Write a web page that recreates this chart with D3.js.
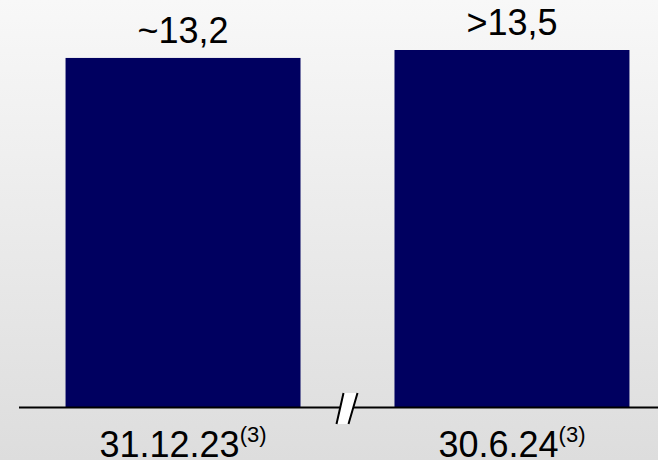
<!DOCTYPE html>
<html>
<head>
<meta charset="utf-8">
<script src="https://cdn.jsdelivr.net/npm/d3@7"></script>
<style>
  html, body { margin: 0; padding: 0; }
  svg { display: block; }
</style>
</head>
<body>
<svg id="chart" width="658" height="460"></svg>
<script>
// Data
const categories = ["31.12.23", "30.6.24"];
const footnotes = ["(3)", "(3)"];
const values = [13.2, 13.5];
const valueLabels = ["~13,2", ">13,5"];

const W = 658, H = 460;
const baseY = 407.5;
const svg = d3.select("#chart");

// Background gradient
const defs = svg.append("defs");
const grad = defs.append("linearGradient")
  .attr("id", "bg").attr("x1", 0).attr("y1", 0).attr("x2", 0).attr("y2", 1);
grad.append("stop").attr("offset", "0%").attr("stop-color", "#f8f8f8");
grad.append("stop").attr("offset", "100%").attr("stop-color", "#dddddd");
svg.append("rect").attr("width", W).attr("height", H).attr("fill", "url(#bg)");

const x = d3.scaleBand()
  .domain(categories)
  .range([19, 676])
  .paddingInner(0.2857)
  .paddingOuter(0.1415);

const y = d3.scaleLinear()
  .domain([0, 13.5])
  .range([baseY, 50]);

// Bars
svg.selectAll("rect.bar")
  .data(values)
  .join("rect")
  .attr("class", "bar")
  .attr("x", (d, i) => x(categories[i]))
  .attr("width", x.bandwidth())
  .attr("y", d => y(d))
  .attr("height", d => y(0) - y(d))
  .attr("fill", "#000060");

// Value labels
svg.selectAll("text.val")
  .data(values)
  .join("text")
  .attr("class", "val")
  .attr("x", (d, i) => x(categories[i]) + x.bandwidth() / 2)
  .attr("y", d => y(d) - 15)
  .attr("text-anchor", "middle")
  .attr("font-family", "Arial, 'Liberation Sans', sans-serif")
  .attr("font-size", 36)
  .attr("fill", "#000")
  .text((d, i) => valueLabels[i]);

// Baseline
svg.append("line")
  .attr("x1", 19).attr("x2", W)
  .attr("y1", baseY).attr("y2", baseY)
  .attr("stroke", "#000").attr("stroke-width", 2);

// Axis break marker between the two periods
const gapMid = (x(categories[0]) + x.bandwidth() + x(categories[1])) / 2;
const bx = gapMid - 1;
svg.append("path")
  .attr("d", `M${bx - 10},424 L${bx - 3},393 L${bx + 11},393 L${bx + 2},424 Z`)
  .attr("fill", "#fff");
svg.append("path")
  .attr("d", `M${bx - 10},424 L${bx - 3},393 M${bx + 2},424 L${bx + 11},393`)
  .attr("stroke", "#000").attr("stroke-width", 2).attr("fill", "none");

// Category labels with footnote markers
const cat = svg.selectAll("text.cat")
  .data(categories)
  .join("text")
  .attr("class", "cat")
  .attr("x", d => x(d) + x.bandwidth() / 2)
  .attr("y", 457)
  .attr("text-anchor", "middle")
  .attr("font-family", "Arial, 'Liberation Sans', sans-serif")
  .attr("font-size", 36)
  .attr("fill", "#000");
cat.append("tspan").text(d => d);
cat.append("tspan")
  .attr("font-size", 22)
  .attr("dy", -15)
  .text((d, i) => footnotes[i]);
</script>
</body>
</html>
